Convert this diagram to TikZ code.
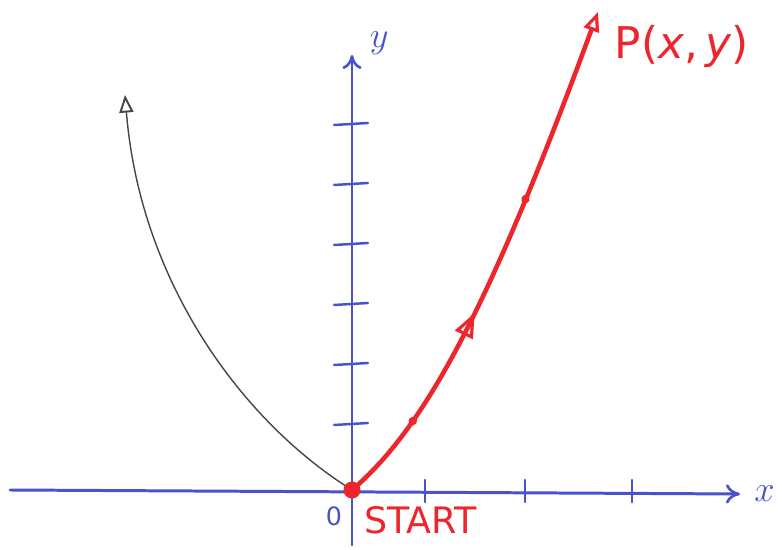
\documentclass[tikz,border=0pt]{standalone}
\usepackage{fontspec}
\setmainfont{DejaVu Sans}
\usetikzlibrary{arrows.meta, decorations.markings, positioning}
\definecolor{AxisBlue}{RGB}{72,82,205}
\definecolor{PathRed}{RGB}{236,38,44}
\definecolor{ArcGray}{RGB}{70,70,70}
\tikzset{
  >=latex,
  % assi e tacche
  axis/.style={AxisBlue,line width=1.7pt,line cap=round},
  axis arrow/.style={axis,-{To[length=8pt,width=11pt,line width=1.5pt]}},
  tick/.style={AxisBlue,line width=1.4pt,line cap=round},
  % traiettorie
  track/.style={PathRed,line width=2.6pt,line cap=round},
  track arrow/.style={track,-{Triangle[open,length=11pt,width=9pt,line width=1.8pt]},
    postaction={decorate},
    decoration={markings,
      mark=at position 0.4 with {\arrow{Triangle[open,length=14pt,width=11pt,line width=1.8pt]}},
      mark=at position 0.17 with {\fill (0,0) circle (2.4pt);},
      mark=at position 0.63 with {\fill (0,0) circle (2.4pt);}}},
  arc arrow/.style={ArcGray,line width=0.8pt,-{Triangle[open,length=10pt,width=8pt,line width=1.1pt]}},
  label blue/.style={AxisBlue,font=\huge},
  label red/.style={PathRed,font=\Huge}
}
\begin{document}
\begin{tikzpicture}[x=0.02cm,y=-0.02cm]
  \useasboundingbox (0,0) rectangle (782,550);
  % punti di riferimento
  \coordinate (O) at (352,490);
  \coordinate (xstart) at (10,490);
  \coordinate (xend) at (740,494);
  \coordinate (ystart) at (352,545);
  \coordinate (yend) at (352,55);
  \coordinate (P) at (598,12);
  \coordinate (Q) at (125,95);
  % assi
  \draw[axis arrow] (xstart) -- (xend) node[label blue,right=4pt] (xlab) {$x$};
  \draw[axis arrow] (ystart) -- (yend) node[label blue,above right=-4pt and 6pt] (ylab) {$y$};
  \foreach \tx in {425,525,632}
    \draw[tick] (\tx,480) -- (\tx,502);
  \foreach \ty in {425,365,305,245,185,125}
    \draw[tick] (334,\ty) -- (368,\ty-2);
  % curva a sinistra
  \draw[arc arrow] (O) .. controls (240,420) and (140,280) .. (Q);
  % traiettoria rossa
  \draw[track arrow] (O) .. controls (428,425) and (492,300) .. (P);
  \fill[PathRed] (O) circle (8.5);
  \node[label red,right=6pt of P,anchor=north west,yshift=-4pt] (Plab) {P(\textit{x},\,\textit{y})};
  \node[label blue,font=\Large] (zero) at (334,516) {0};
  \node[label red,font=\huge,anchor=north west] (start) at (358,500) {START};
\end{tikzpicture}
\end{document}
